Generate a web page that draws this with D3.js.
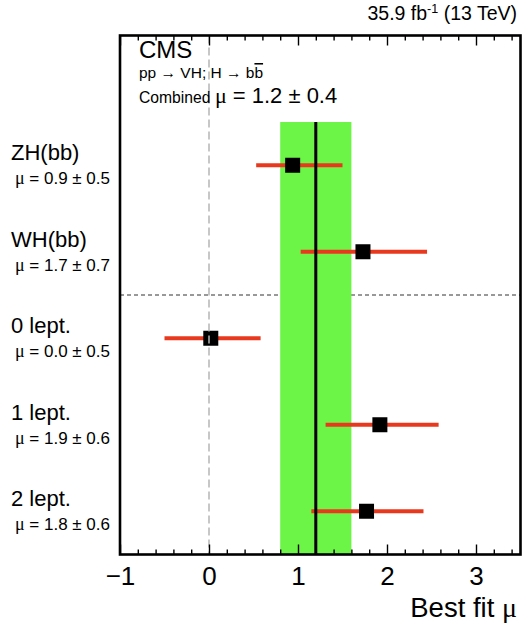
<!DOCTYPE html>
<html>
<head>
<meta charset="utf-8">
<script src="https://cdn.jsdelivr.net/npm/d3@7"></script>
<style>
  body { margin: 0; background: #fff; }
  svg { display: block; }
  text { font-family: "Liberation Sans", Arial, Helvetica, sans-serif; fill: #000; }
</style>
</head>
<body>
<svg id="chart" width="522" height="625"></svg>
<script>
// Signal strength per channel (best fit, asymmetric uncertainties)
const channels = ["ZH(bb)", "WH(bb)", "0 lept.", "1 lept.", "2 lept."];
const muValues = [0.94, 1.73, 0.02, 1.92, 1.77];
const errDown  = [0.41, 0.70, 0.52, 0.61, 0.62];
const errUp    = [0.56, 0.72, 0.56, 0.66, 0.64];

// Combined result
const combinedMu = 1.2;
const combinedErr = 0.4;

// Axis
const xTicks = [-1, 0, 1, 2, 3];
const xDomain = [-1, 3.5];
const yDomain = [0, 6];

const svg = d3.select("#chart");
const frame = { left: 120, right: 520.5, top: 35.5, bottom: 554.5 };

const x = d3.scaleLinear().domain(xDomain).range([frame.left, frame.right]);
const y = d3.scaleLinear().domain(yDomain).range([frame.bottom, frame.top]);

const fmt = d3.format(".1f");
const minusFmt = d => (d < 0 ? "\u2212" + Math.abs(d) : String(d));
const serif = '"Liberation Serif", "DejaVu Serif", serif';

// channel i sits at row centre 4.5 - i; separator between WH and lepton channels
const rowY = i => yDomain[1] - 1.5 - i;
const rows = channels.map((name, i) => ({
  name, mu: muValues[i], lo: errDown[i], hi: errUp[i], row: rowY(i)
}));

// horizontal dashed separator
svg.append("line")
  .attr("x1", x(xDomain[0])).attr("x2", x(xDomain[1]))
  .attr("y1", y(3)).attr("y2", y(3))
  .attr("stroke", "#333").attr("stroke-width", 1)
  .attr("stroke-dasharray", "4,3");

// combined band
svg.append("rect")
  .attr("x", x(combinedMu - combinedErr))
  .attr("width", x(combinedMu + combinedErr) - x(combinedMu - combinedErr))
  .attr("y", y(5))
  .attr("height", y(0) - y(5))
  .attr("fill", "#6cf546");

// error bars
svg.append("g").selectAll("line")
  .data(rows).join("line")
  .attr("x1", d => x(d.mu - d.lo))
  .attr("x2", d => x(d.mu + d.hi))
  .attr("y1", d => y(d.row)).attr("y2", d => y(d.row))
  .attr("stroke", "#e8391f").attr("stroke-width", 4);

// combined central value
svg.append("line")
  .attr("x1", x(combinedMu)).attr("x2", x(combinedMu))
  .attr("y1", y(5)).attr("y2", y(0))
  .attr("stroke", "#000").attr("stroke-width", 3);

// central values
const sq = 15;
svg.append("g").selectAll("rect")
  .data(rows).join("rect")
  .attr("x", d => x(d.mu) - sq / 2)
  .attr("y", d => y(d.row) - sq / 2)
  .attr("width", sq).attr("height", sq)
  .attr("fill", "#000");

// mu = 0 reference
svg.append("line")
  .attr("x1", x(0)).attr("x2", x(0))
  .attr("y1", y(yDomain[1])).attr("y2", y(yDomain[0]))
  .attr("stroke", "#b5b5b5").attr("stroke-width", 1.5)
  .attr("stroke-dasharray", "8,4");

// axes: minor and major ticks on bottom and top, pointing inward
const minorTicks = d3.range(-10, 36, 2).map(v => v / 10).filter(v => !xTicks.includes(v));

function styleAxis(g) {
  g.select(".domain").remove();
  g.selectAll(".tick line").attr("stroke", "#000").attr("stroke-width", 1.4);
}

svg.append("g").attr("transform", `translate(0,${frame.bottom})`)
  .call(d3.axisBottom(x).tickValues(minorTicks).tickSize(-5).tickFormat(""))
  .call(styleAxis);
svg.append("g").attr("transform", `translate(0,${frame.bottom})`)
  .call(d3.axisBottom(x).tickValues(xTicks).tickSize(-10).tickPadding(12).tickFormat(minusFmt))
  .call(styleAxis)
  .call(g => g.selectAll("text")
    .style("font-family", '"Liberation Sans", Arial, sans-serif')
    .style("font-size", "26px").attr("fill", "#000"));
svg.append("g").attr("transform", `translate(0,${frame.top})`)
  .call(d3.axisTop(x).tickValues(minorTicks).tickSize(-5).tickFormat(""))
  .call(styleAxis);
svg.append("g").attr("transform", `translate(0,${frame.top})`)
  .call(d3.axisTop(x).tickValues(xTicks).tickSize(-10).tickFormat(""))
  .call(styleAxis);

// frame
svg.append("rect")
  .attr("x", frame.left).attr("y", frame.top)
  .attr("width", frame.right - frame.left).attr("height", frame.bottom - frame.top)
  .attr("fill", "none").attr("stroke", "#000").attr("stroke-width", 2.6);

// x-axis title
const xt = svg.append("text")
  .attr("x", 517).attr("y", 617).attr("text-anchor", "end")
  .style("font-size", "27.5px");
xt.append("tspan").text("Best fit ");
xt.append("tspan").style("font-family", serif).style("font-size", "28px").text("\u03bc");

// luminosity label
const lumi = svg.append("text")
  .attr("x", 517).attr("y", 20).attr("text-anchor", "end")
  .style("font-size", "19.5px");
lumi.append("tspan").text("35.9 fb");
lumi.append("tspan").attr("dy", -7).style("font-size", "12.5px").text("-1");
lumi.append("tspan").attr("dy", 7).text(" (13 TeV)");

// CMS block
svg.append("text").attr("x", 139).attr("y", 58)
  .style("font-size", "24px").text("CMS");
const proc = svg.append("text").attr("x", 139).attr("y", 78).style("font-size", "15.5px");
proc.append("tspan").text("pp \u2192 VH; H \u2192 b");
proc.append("tspan").style("text-decoration", "overline").text("b");
const comb = svg.append("text").attr("x", 139).attr("y", 103);
comb.append("tspan").style("font-size", "15.7px").text("Combined ");
comb.append("tspan").style("font-family", serif).style("font-size", "22px").text("\u03bc");
comb.append("tspan").style("font-size", "22px")
  .text(` = ${fmt(combinedMu)} \u00b1 ${fmt(combinedErr)}`);

// channel labels
const lab = svg.append("g").selectAll("g").data(rows).join("g");
lab.append("text")
  .attr("x", 11).attr("y", d => y(d.row) - 5)
  .style("font-size", "22px")
  .text(d => d.name);
const mlab = lab.append("text")
  .attr("x", 110).attr("y", d => y(d.row) + 19)
  .attr("text-anchor", "end")
  .style("font-size", "17px");
mlab.append("tspan").style("font-family", serif).style("font-size", "18px").text("\u03bc");
mlab.append("tspan").text(d => ` = ${fmt(d.mu)} \u00b1 ${fmt((d.lo + d.hi) / 2)}`);
</script>
</body>
</html>
